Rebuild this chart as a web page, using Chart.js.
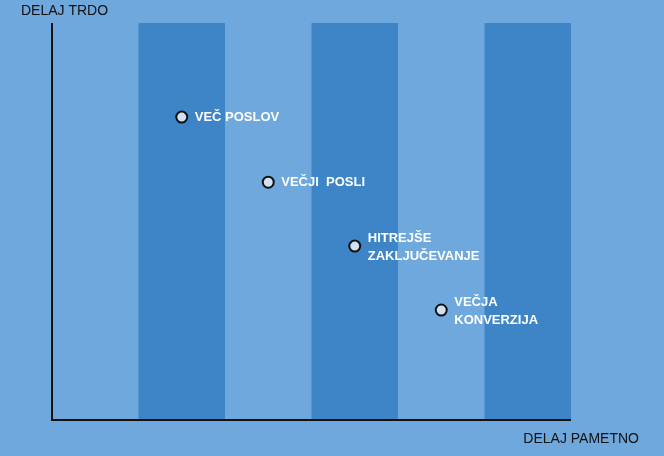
<!DOCTYPE html>
<html>
<head>
<meta charset="utf-8">
<script src="https://cdn.jsdelivr.net/npm/chart.js@4"></script>
<style>
html,body{margin:0;padding:0;background:#6fa8dc;}
#wrap{width:664px;height:456px;}
</style>
</head>
<body>
<div id="wrap"><canvas id="chart"></canvas></div>
<script>
// bands along x (start, end), all spanning full y range
var bandStarts = [1, 3, 5];
var bandEnds = [2, 4, 6];
// points
var pointX = [1.5, 2.5, 3.5, 4.5];
var pointY = [76.3, 59.9, 43.8, 27.7];
var pointLabels = [["VEČ POSLOV"], ["VEČJI  POSLI"], ["HITREJŠE", "ZAKLJUČEVANJE"], ["VEČJA", "KONVERZIJA"]];
var yTitle = "DELAJ TRDO";
var xTitle = "DELAJ PAMETNO";

var bandsPlugin = {
    id: 'bands',
    beforeDatasetsDraw: function(chart){
        var c = chart.ctx, xs = chart.scales.x, ys = chart.scales.y;
        c.save();
        c.fillStyle = '#3d85c6';
        for(var i = 0; i < bandStarts.length; i++){
            var x1 = xs.getPixelForValue(bandStarts[i]);
            var x2 = xs.getPixelForValue(bandEnds[i]);
            c.fillRect(x1, ys.getPixelForValue(100), x2 - x1, ys.getPixelForValue(0) - ys.getPixelForValue(100));
        }
        // axes
        c.strokeStyle = '#111';
        c.lineWidth = 2;
        c.beginPath();
        c.moveTo(xs.getPixelForValue(0), ys.getPixelForValue(100));
        c.lineTo(xs.getPixelForValue(0), ys.getPixelForValue(0));
        c.lineTo(xs.getPixelForValue(6), ys.getPixelForValue(0));
        c.stroke();
        c.fillStyle = '#111';
        c.font = '14px "Liberation Sans", Arial, sans-serif';
        c.textBaseline = 'middle';
        c.textAlign = 'left';
        c.fillText(yTitle, 21, 11);
        c.textAlign = 'right';
        c.fillText(xTitle, 639, 439);
        c.restore();
    },
    afterDatasetsDraw: function(chart){
        var c = chart.ctx, xs = chart.scales.x, ys = chart.scales.y;
        c.save();
        c.fillStyle = '#fff';
        c.font = 'bold 13px "Liberation Sans", Arial, sans-serif';
        c.textBaseline = 'middle';
        c.textAlign = 'left';
        for(var i = 0; i < pointX.length; i++){
            var px = xs.getPixelForValue(pointX[i]) + 13;
            var py = ys.getPixelForValue(pointY[i]);
            var lines = pointLabels[i];
            var start = lines.length > 1 ? py - 8 : py;
            for(var j = 0; j < lines.length; j++){
                c.fillText(lines[j], px, start + j * 18);
            }
        }
        c.restore();
    }
};

var data = pointX.map(function(x, i){ return {x: x, y: pointY[i]}; });

new Chart(document.getElementById('chart').getContext('2d'), {
    type: 'scatter',
    data: {
        datasets: [{
            data: data,
            pointRadius: 5.5,
            pointBackgroundColor: '#cfe2f3',
            pointBorderColor: '#111',
            pointBorderWidth: 2
        }]
    },
    options: {
        responsive: true,
        maintainAspectRatio: false,
        animation: false,
        layout: {padding: {left: 52, right: 93, top: 23, bottom: 36}},
        plugins: {legend: {display: false}, tooltip: {enabled: false}},
        scales: {
            x: {type: 'linear', min: 0, max: 6, display: false},
            y: {type: 'linear', min: 0, max: 100, display: false}
        }
    },
    plugins: [bandsPlugin]
});
</script>
</body>
</html>
